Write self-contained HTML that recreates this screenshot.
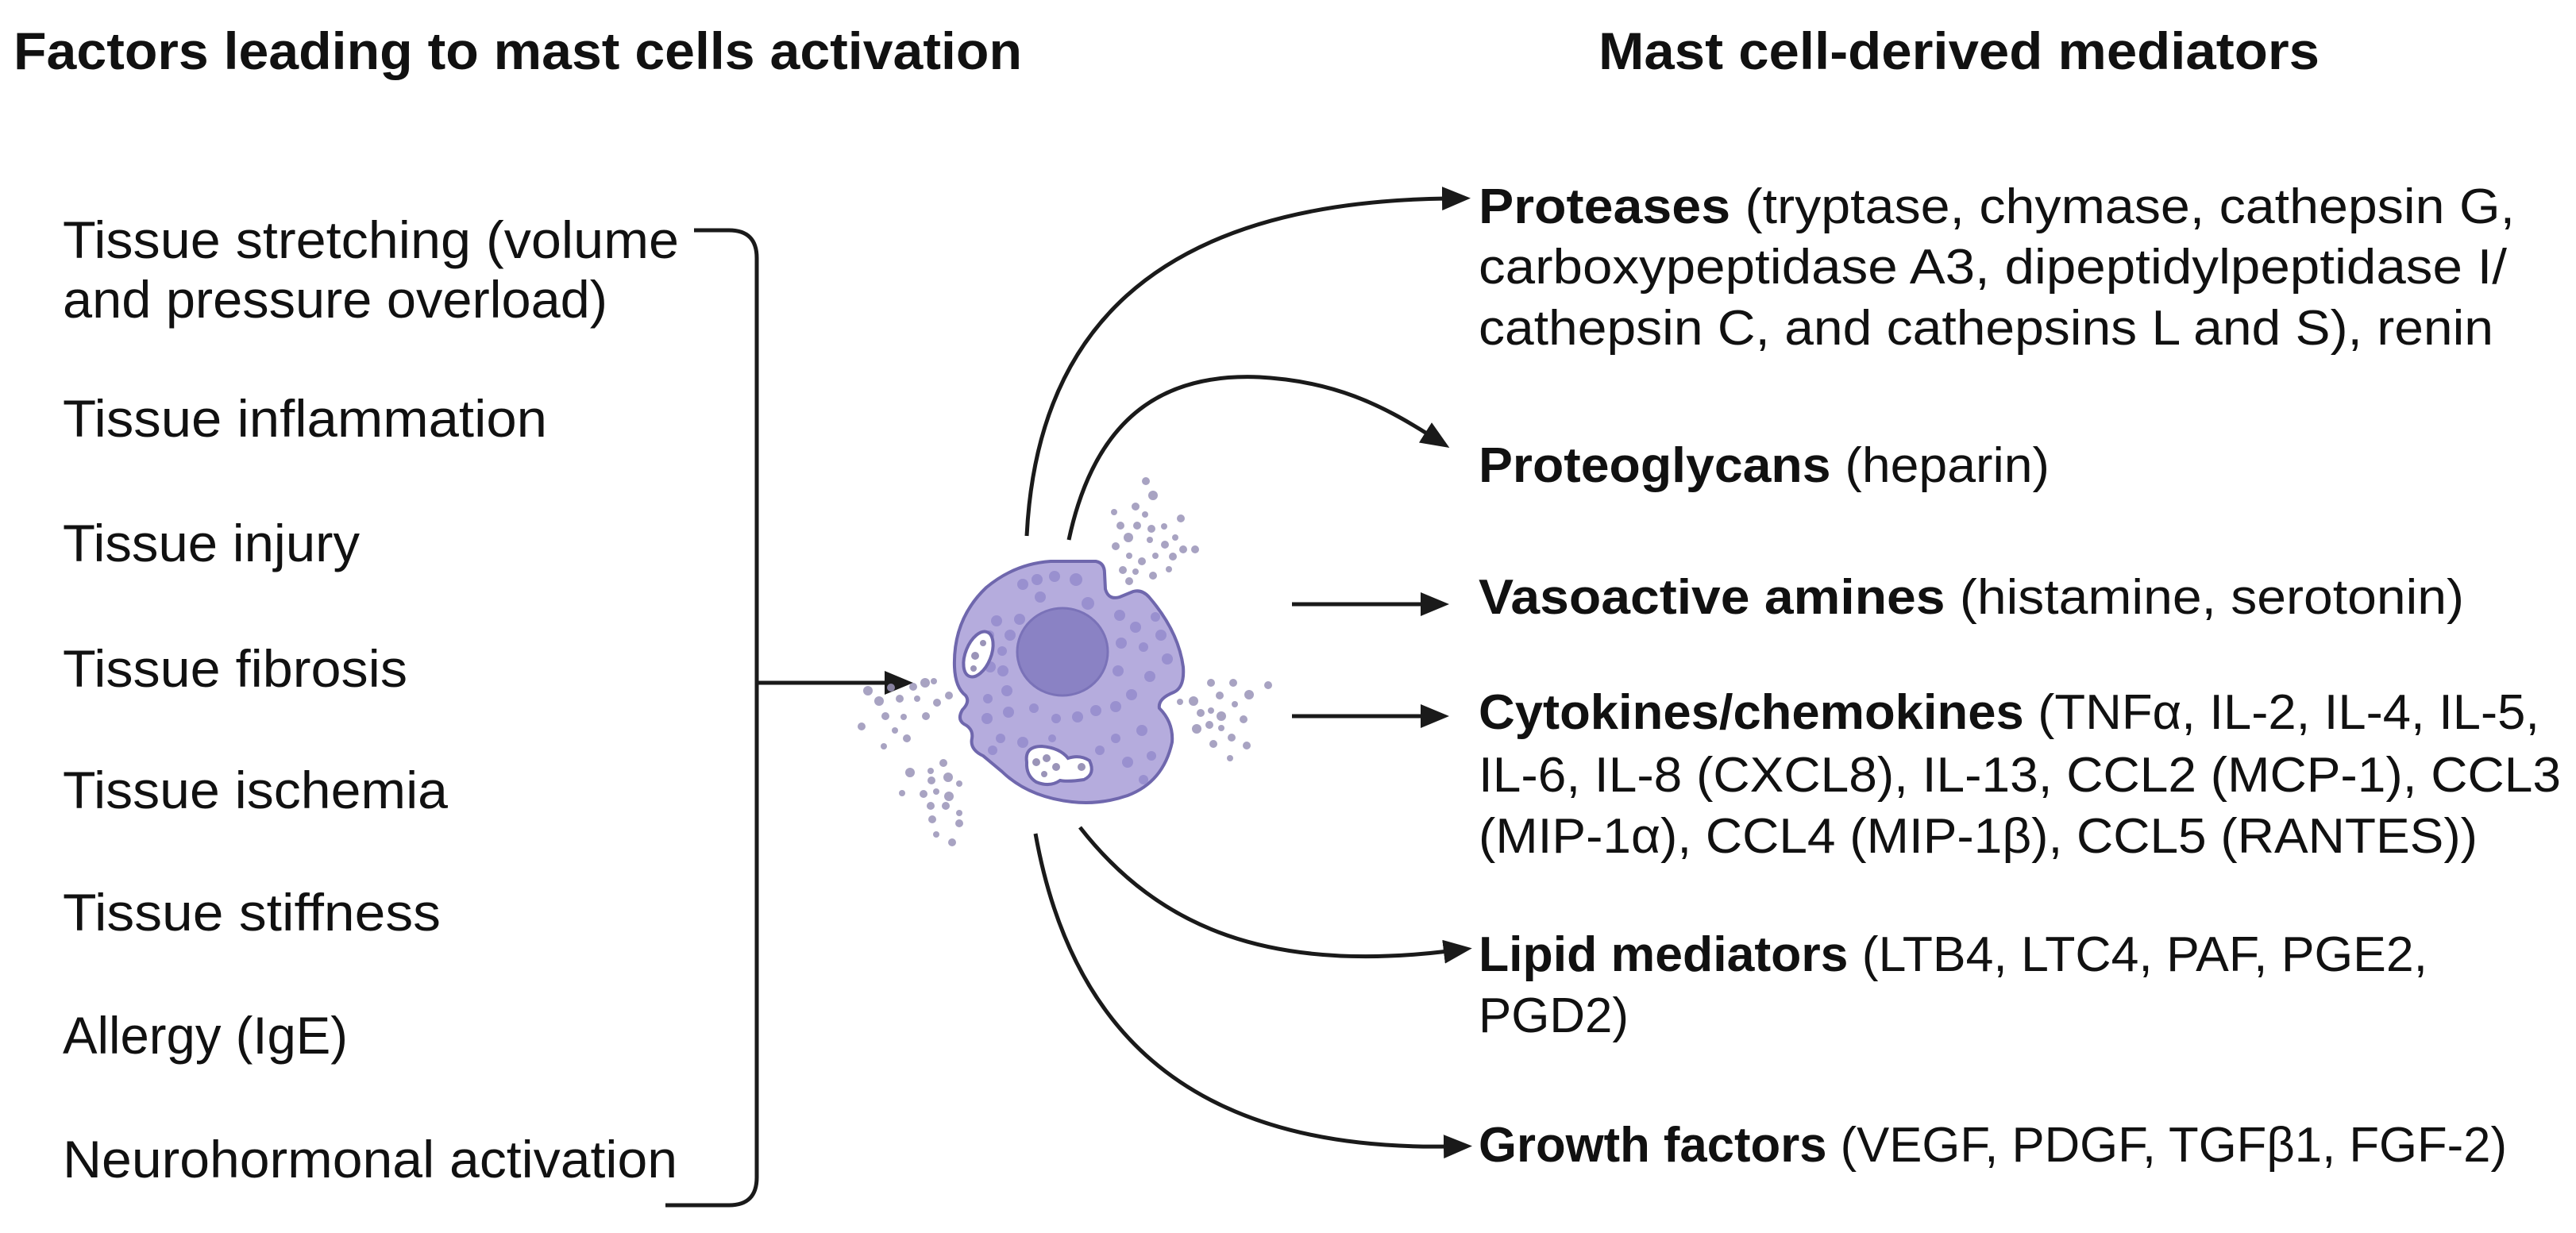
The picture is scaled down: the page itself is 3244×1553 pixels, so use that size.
<!DOCTYPE html>
<html><head><meta charset="utf-8"><style>
html,body{margin:0;padding:0;background:#fff;}
svg{display:block;}
text{font-family:"Liberation Sans",Arial,sans-serif;fill:#111;}
</style></head><body>
<svg width="3244" height="1553" viewBox="0 0 3244 1553" xmlns="http://www.w3.org/2000/svg">
<defs>
<marker id="ah" markerWidth="10" markerHeight="10" refX="1" refY="5" orient="auto" markerUnits="userSpaceOnUse" viewBox="0 0 10 10">
</marker>
<marker id="a" viewBox="0 0 12 10" refX="2" refY="5" markerWidth="36" markerHeight="30" markerUnits="userSpaceOnUse" orient="auto">
<path d="M0,0 L12,5 L0,10 Z" fill="#1a1a1a"/>
</marker>
</defs>

<!-- Titles -->
<text x="17" y="87" font-size="66" font-weight="bold" textLength="1270" lengthAdjust="spacingAndGlyphs">Factors leading to mast cells activation</text>
<text x="2013" y="87" font-size="66" font-weight="bold" textLength="908" lengthAdjust="spacingAndGlyphs">Mast cell-derived mediators</text>

<!-- Left list -->
<g font-size="66">
<text x="79" y="325" textLength="776" lengthAdjust="spacingAndGlyphs">Tissue stretching (volume</text>
<text x="79" y="400" textLength="686" lengthAdjust="spacingAndGlyphs">and pressure overload)</text>
<text x="79" y="550" textLength="610" lengthAdjust="spacingAndGlyphs">Tissue inflammation</text>
<text x="79" y="707" textLength="374" lengthAdjust="spacingAndGlyphs">Tissue injury</text>
<text x="79" y="865" textLength="434" lengthAdjust="spacingAndGlyphs">Tissue fibrosis</text>
<text x="79" y="1018" textLength="485" lengthAdjust="spacingAndGlyphs">Tissue ischemia</text>
<text x="79" y="1172" textLength="476" lengthAdjust="spacingAndGlyphs">Tissue stiffness</text>
<text x="79" y="1327" textLength="359" lengthAdjust="spacingAndGlyphs">Allergy (IgE)</text>
<text x="79" y="1483" textLength="774" lengthAdjust="spacingAndGlyphs">Neurohormonal activation</text>
</g>

<!-- Bracket -->
<path d="M874,290 L918,290 Q953,290 953,325 L953,1483 Q953,1518 918,1518 L838,1518" fill="none" stroke="#1a1a1a" stroke-width="5"/>
<path d="M953,860 L1120,860" fill="none" stroke="#1a1a1a" stroke-width="5" marker-end="url(#a)"/>

<!-- Right list -->
<g font-size="62">
<text x="1862" y="281" textLength="1305" lengthAdjust="spacingAndGlyphs"><tspan font-weight="bold">Proteases</tspan> (tryptase, chymase,  cathepsin G,</text>
<text x="1862" y="357" textLength="1295" lengthAdjust="spacingAndGlyphs">carboxypeptidase A3, dipeptidylpeptidase I/</text>
<text x="1862" y="434" textLength="1278" lengthAdjust="spacingAndGlyphs">cathepsin C, and cathepsins L and S), renin</text>
<text x="1862" y="607" textLength="719" lengthAdjust="spacingAndGlyphs"><tspan font-weight="bold">Proteoglycans</tspan> (heparin)</text>
<text x="1862" y="773" textLength="1241" lengthAdjust="spacingAndGlyphs"><tspan font-weight="bold">Vasoactive amines</tspan> (histamine, serotonin)</text>
<text x="1862" y="918" textLength="1336" lengthAdjust="spacingAndGlyphs"><tspan font-weight="bold">Cytokines/chemokines</tspan> (TNFα, IL-2, IL-4, IL-5,</text>
<text x="1862" y="997" textLength="1363" lengthAdjust="spacingAndGlyphs">IL-6,  IL-8 (CXCL8), IL-13, CCL2 (MCP-1), CCL3</text>
<text x="1862" y="1074" textLength="1258" lengthAdjust="spacingAndGlyphs">(MIP-1α), CCL4 (MIP-1β), CCL5 (RANTES))</text>
<text x="1862" y="1223" textLength="1195" lengthAdjust="spacingAndGlyphs"><tspan font-weight="bold">Lipid mediators</tspan> (LTB4, LTC4, PAF, PGE2,</text>
<text x="1862" y="1300" textLength="189" lengthAdjust="spacingAndGlyphs">PGD2)</text>
<text x="1862" y="1463" textLength="1295" lengthAdjust="spacingAndGlyphs"><tspan font-weight="bold">Growth factors</tspan> (VEGF, PDGF, TGFβ1, FGF-2)</text>
</g>

<!-- Connectors -->
<g fill="none" stroke="#1a1a1a" stroke-width="5">
<path d="M1293,675 C1305,430 1440,255 1822,250" marker-end="url(#a)"/>
<path d="M1346,680 C1380,520 1470,470 1586,475 C1680,480 1740,510 1800,548" marker-end="url(#a)"/>
<path d="M1627,761 L1795,761" marker-end="url(#a)"/>
<path d="M1627,902 L1795,902" marker-end="url(#a)"/>
<path d="M1360,1042 C1460,1170 1600,1225 1824,1198" marker-end="url(#a)"/>
<path d="M1304,1050 C1345,1280 1480,1450 1824,1444" marker-end="url(#a)"/>
</g>

<!-- Released granules -->
<g fill="#9a94b8" opacity="0.85">
<!-- top right cluster -->
<circle cx="1443" cy="606" r="5"/><circle cx="1452" cy="624" r="6"/><circle cx="1430" cy="638" r="5"/><circle cx="1442" cy="648" r="4"/><circle cx="1487" cy="653" r="5"/>
<circle cx="1403" cy="645" r="4"/><circle cx="1411" cy="662" r="5"/><circle cx="1432" cy="662" r="5"/><circle cx="1450" cy="666" r="5"/><circle cx="1466" cy="663" r="4"/>
<circle cx="1421" cy="677" r="6"/><circle cx="1448" cy="680" r="4"/><circle cx="1467" cy="686" r="5"/><circle cx="1480" cy="677" r="4"/><circle cx="1405" cy="688" r="5"/>
<circle cx="1422" cy="700" r="4"/><circle cx="1438" cy="707" r="5"/><circle cx="1455" cy="700" r="4"/><circle cx="1477" cy="701" r="5"/><circle cx="1490" cy="692" r="5"/><circle cx="1505" cy="692" r="5"/>
<circle cx="1414" cy="718" r="5"/><circle cx="1430" cy="720" r="4"/><circle cx="1452" cy="725" r="5"/><circle cx="1422" cy="732" r="5"/><circle cx="1472" cy="717" r="4"/>
<!-- right cluster -->
<circle cx="1525" cy="860" r="5"/><circle cx="1553" cy="860" r="5"/><circle cx="1573" cy="875" r="6"/><circle cx="1597" cy="863" r="5"/>
<circle cx="1486" cy="884" r="4"/><circle cx="1503" cy="883" r="6"/><circle cx="1536" cy="876" r="5"/><circle cx="1555" cy="887" r="4"/>
<circle cx="1512" cy="898" r="5"/><circle cx="1525" cy="895" r="4"/><circle cx="1538" cy="902" r="6"/><circle cx="1566" cy="906" r="5"/>
<circle cx="1507" cy="918" r="6"/><circle cx="1523" cy="913" r="5"/><circle cx="1538" cy="917" r="4"/><circle cx="1551" cy="929" r="5"/>
<circle cx="1528" cy="937" r="5"/><circle cx="1570" cy="939" r="5"/><circle cx="1549" cy="955" r="4"/>
<!-- left cluster -->
<circle cx="1093" cy="870" r="6"/><circle cx="1122" cy="866" r="5"/><circle cx="1150" cy="865" r="5"/><circle cx="1165" cy="860" r="6"/><circle cx="1155" cy="880" r="4"/>
<circle cx="1107" cy="883" r="6"/><circle cx="1133" cy="880" r="5"/><circle cx="1195" cy="876" r="5"/><circle cx="1180" cy="885" r="5"/><circle cx="1166" cy="902" r="5"/>
<circle cx="1085" cy="915" r="5"/><circle cx="1115" cy="902" r="5"/><circle cx="1138" cy="903" r="4"/><circle cx="1127" cy="920" r="4"/><circle cx="1142" cy="930" r="5"/>
<circle cx="1113" cy="940" r="4"/><circle cx="1176" cy="858" r="4"/>
<!-- bottom-left cluster -->
<circle cx="1188" cy="961" r="5"/><circle cx="1146" cy="973" r="6"/><circle cx="1172" cy="971" r="4"/><circle cx="1194" cy="979" r="6"/>
<circle cx="1173" cy="983" r="5"/><circle cx="1195" cy="1003" r="6"/><circle cx="1136" cy="999" r="4"/><circle cx="1163" cy="1000" r="5"/><circle cx="1179" cy="997" r="4"/>
<circle cx="1208" cy="987" r="4"/><circle cx="1172" cy="1015" r="5"/><circle cx="1191" cy="1015" r="5"/><circle cx="1208" cy="1024" r="4"/>
<circle cx="1174" cy="1032" r="5"/><circle cx="1208" cy="1037" r="5"/><circle cx="1179" cy="1051" r="4"/><circle cx="1199" cy="1061" r="5"/>
</g>

<!-- Cell -->
<path d="M1323,707 L1380,707 Q1391,709 1391,722 L1392,742 Q1396,756 1410,752 L1427,745 Q1438,742 1447,752 Q1484,795 1490,840 Q1492,866 1478,872 Q1458,880 1460,892 Q1478,910 1476,935 Q1465,985 1420,1002 Q1385,1014 1350,1010 Q1295,1004 1262,972 Q1250,962 1238,952 Q1221,944 1224,930 Q1226,918 1214,912 Q1205,906 1212,894 Q1222,884 1216,876 Q1203,866 1202,840 Q1200,780 1242,740 Q1278,710 1323,707 Z" fill="#b5acdd" stroke="#6f67ad" stroke-width="4"/>
<g fill="#9990cf">
<circle cx="1306" cy="730" r="7"/><circle cx="1328" cy="726" r="7"/><circle cx="1355" cy="730" r="8"/><circle cx="1288" cy="736" r="7"/>
<circle cx="1370" cy="760" r="8"/><circle cx="1310" cy="752" r="7"/><circle cx="1284" cy="780" r="7"/><circle cx="1255" cy="782" r="7"/>
<circle cx="1246" cy="800" r="6"/><circle cx="1272" cy="800" r="7"/><circle cx="1262" cy="820" r="6"/><circle cx="1247" cy="840" r="7"/>
<circle cx="1263" cy="845" r="7"/><circle cx="1268" cy="870" r="7"/><circle cx="1244" cy="880" r="6"/><circle cx="1243" cy="905" r="7"/>
<circle cx="1270" cy="897" r="7"/><circle cx="1302" cy="892" r="6"/><circle cx="1330" cy="905" r="6"/><circle cx="1357" cy="903" r="7"/>
<circle cx="1380" cy="895" r="7"/><circle cx="1405" cy="890" r="7"/><circle cx="1425" cy="875" r="7"/><circle cx="1448" cy="852" r="7"/>
<circle cx="1410" cy="775" r="7"/><circle cx="1430" cy="790" r="7"/><circle cx="1455" cy="777" r="6"/><circle cx="1462" cy="800" r="7"/>
<circle cx="1412" cy="810" r="7"/><circle cx="1440" cy="815" r="6"/><circle cx="1470" cy="830" r="7"/><circle cx="1408" cy="845" r="7"/>
<circle cx="1438" cy="920" r="7"/><circle cx="1405" cy="930" r="6"/><circle cx="1450" cy="952" r="6"/><circle cx="1420" cy="960" r="7"/>
<circle cx="1260" cy="930" r="6"/><circle cx="1288" cy="935" r="7"/><circle cx="1250" cy="945" r="6"/><circle cx="1440" cy="982" r="6"/>
<circle cx="1385" cy="945" r="6"/><circle cx="1325" cy="930" r="5"/>
</g>
<ellipse cx="1338" cy="821" rx="57" ry="55" fill="#8a82c4" stroke="#7a72b8" stroke-width="3"/>
<!-- vacuoles -->
<ellipse cx="1232" cy="824" rx="16" ry="30" transform="rotate(22 1232 824)" fill="#fff" stroke="#6f67ad" stroke-width="4"/>
<g fill="#9a94b8"><circle cx="1228" cy="826" r="5"/><circle cx="1238" cy="810" r="4"/><circle cx="1226" cy="842" r="4"/></g>
<path d="M1293,960 Q1290,940 1312,940 Q1335,942 1345,955 Q1360,950 1372,958 Q1380,975 1365,982 Q1345,985 1335,983 Q1322,992 1305,985 Q1292,977 1293,960 Z" fill="#fff" stroke="#6f67ad" stroke-width="4"/>
<g fill="#9a94b8"><circle cx="1305" cy="960" r="5"/><circle cx="1318" cy="955" r="5"/><circle cx="1330" cy="966" r="5"/><circle cx="1315" cy="975" r="4"/><circle cx="1362" cy="966" r="5"/></g>
</svg>
</body></html>
